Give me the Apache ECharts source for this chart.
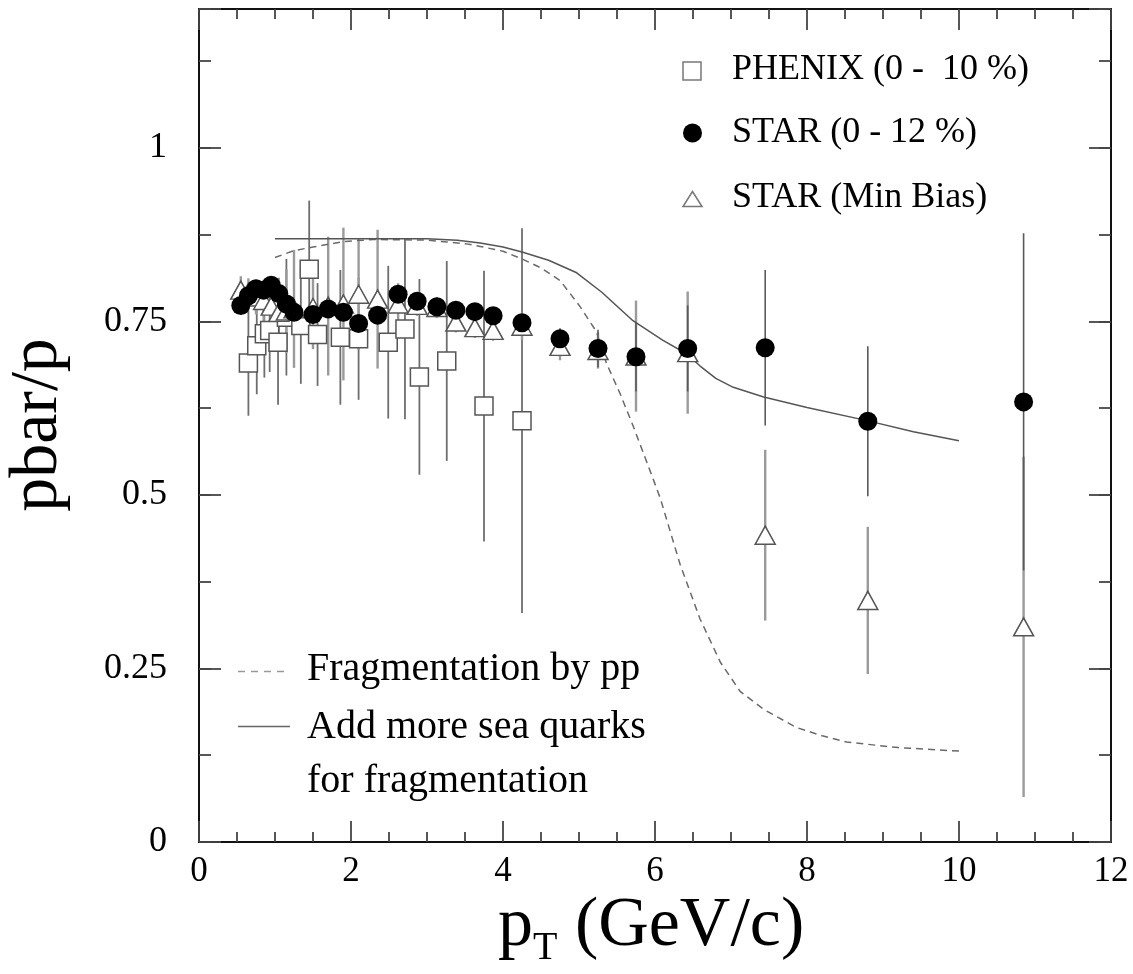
<!DOCTYPE html>
<html>
<head>
<meta charset="utf-8">
<title>pbar/p vs pT</title>
<script src="https://cdn.jsdelivr.net/npm/echarts@6/dist/echarts.min.js"></script>
<style>
  html, body { margin: 0; padding: 0; background: #fff; }
  #chart { width: 1133px; height: 974px; }
</style>
</head>
<body>
<div id="chart"></div>
<script>
// ---- data: antiproton / proton ratio versus transverse momentum ----

// PHENIX (0 - 10 %)
const phenixPt  = [0.65, 0.76, 0.86, 0.93, 1.04, 1.15, 1.34, 1.45, 1.56, 1.86, 2.10, 2.49, 2.71, 2.90, 3.26, 3.75, 4.25];
const phenixVal = [0.690, 0.715, 0.732, 0.737, 0.720, 0.756, 0.744, 0.825, 0.731, 0.727, 0.725, 0.720, 0.739, 0.670, 0.693, 0.628, 0.607];
const phenixErr = [0.076, 0.070, 0.063, 0.060, 0.090, 0.084, 0.084, 0.099, 0.074, 0.097, 0.088, 0.110, 0.130, 0.141, 0.144, 0.195, 0.277];

// STAR bins (shared by both centralities)
const starPt = [0.55, 0.65, 0.75, 0.85, 0.95, 1.05, 1.15, 1.25, 1.50, 1.70, 1.90, 2.10, 2.35, 2.62, 2.87, 3.13, 3.38, 3.63, 3.87, 4.25, 4.75, 5.25, 5.75, 6.43, 7.45, 8.80, 10.85];

// STAR (0 - 12 %)
const starCentralVal = [0.773, 0.787, 0.797, 0.795, 0.802, 0.790, 0.775, 0.763, 0.760, 0.768, 0.763, 0.747, 0.759, 0.789, 0.779, 0.771, 0.766, 0.764, 0.758, 0.748, 0.725, 0.711, 0.699, 0.711, 0.712, 0.606, 0.634];
const starCentralErr = [0.010, 0.010, 0.010, 0.010, 0.010, 0.010, 0.010, 0.010, 0.010, 0.010, 0.010, 0.010, 0.010, 0.010, 0.010, 0.010, 0.010, 0.010, 0.010, 0.012, 0.015, 0.027, 0.050, 0.062, 0.112, 0.108, 0.243];

// STAR (Min Bias)
const starMinBiasVal = [0.795, 0.792, 0.785, 0.780, 0.772, 0.763, 0.765, 0.768, 0.770, 0.772, 0.775, 0.789, 0.782, 0.775, 0.773, 0.770, 0.749, 0.741, 0.737, 0.743, 0.714, 0.708, 0.700, 0.705, 0.442, 0.348, 0.310];
const starMinBiasErr = [0.020, 0.020, 0.025, 0.030, 0.040, 0.050, 0.060, 0.085, 0.060, 0.100, 0.110, 0.080, 0.100, 0.030, 0.015, 0.015, 0.015, 0.015, 0.015, 0.020, 0.020, 0.026, 0.080, 0.088, 0.123, 0.106, 0.245];

// Model: fragmentation by pp
const fragPt  = [1.00, 1.25, 1.50, 1.90, 2.30, 3.00, 3.50, 3.70, 4.00, 4.25, 4.50, 4.75, 5.01, 5.23, 5.36, 5.54, 5.71, 5.90, 6.07, 6.33, 6.59, 6.86, 7.12, 7.43, 7.86, 8.20, 8.52, 9.20, 10.00];
const fragVal = [0.842, 0.852, 0.857, 0.865, 0.868, 0.867, 0.862, 0.858, 0.851, 0.840, 0.827, 0.809, 0.772, 0.735, 0.690, 0.646, 0.600, 0.545, 0.495, 0.400, 0.322, 0.259, 0.217, 0.191, 0.165, 0.153, 0.144, 0.136, 0.131];

// Model: more sea quarks for fragmentation
const seaPt  = [1.00, 1.50, 2.00, 2.50, 3.00, 3.40, 3.70, 4.00, 4.25, 4.60, 4.97, 5.30, 5.71, 6.10, 6.42, 6.59, 6.80, 7.03, 7.43, 8.00, 8.79, 9.40, 10.00];
const seaVal = [0.869, 0.869, 0.869, 0.869, 0.869, 0.867, 0.863, 0.857, 0.850, 0.838, 0.820, 0.792, 0.751, 0.723, 0.703, 0.686, 0.668, 0.655, 0.641, 0.626, 0.607, 0.591, 0.578];

// Axis ticks and their labels
const xTicks = [0, 2, 4, 6, 8, 10, 12];
const xTickLabels = ['0', '2', '4', '6', '8', '10', '12'];
const yTicks = [0, 0.25, 0.5, 0.75, 1];
const yTickLabels = ['0', '0.25', '0.5', '0.75', '1'];

// Legend texts
const legendNames = ['PHENIX (0 -  10 %)', 'STAR (0 - 12 %)', 'STAR (Min Bias)'];
const modelNames = ['Fragmentation by pp', 'Add more sea quarks', 'for fragmentation'];

// ---- chart ----
const FONT = "'Liberation Serif', 'Times New Roman', 'DejaVu Serif', serif";
const TICK = { color: '#444', width: 1.8 };
const FRAME = { color: '#111', width: 2 };

function labelFor(ticks, labels) {
  return function (v) {
    for (let i = 0; i < ticks.length; i++) {
      if (Math.abs(v - ticks[i]) < 1e-9) return labels[i];
    }
    return '';
  };
}

function withErrors(xs, vals, errs) {
  return xs.map((x, i) => [x, vals[i] - errs[i], vals[i] + errs[i]]);
}

function errorBarSeries(data, color, width) {
  return {
    type: 'custom',
    xAxisIndex: 0,
    yAxisIndex: 0,
    z: 2,
    silent: true,
    data: data,
    renderItem: function (params, api) {
      const x = api.value(0);
      const p1 = api.coord([x, api.value(1)]);
      const p2 = api.coord([x, api.value(2)]);
      return {
        type: 'line',
        shape: { x1: p1[0], y1: p1[1], x2: p2[0], y2: p2[1] },
        style: { stroke: color, lineWidth: width }
      };
    }
  };
}

function xAxisDef(pos, showLabel) {
  return {
    type: 'value', position: pos, min: 0, max: 12, interval: 2,
    axisLine: { show: true, onZero: false, lineStyle: FRAME },
    axisTick: { show: true, inside: true, length: 21, lineStyle: TICK },
    minorTick: { show: true, splitNumber: 4, length: 10, lineStyle: TICK },
    splitLine: { show: false },
    minorSplitLine: { show: false },
    axisLabel: {
      show: showLabel, margin: 12, fontFamily: FONT, fontSize: 35, color: '#000',
      showMinLabel: true, showMaxLabel: true,
      formatter: labelFor(xTicks, xTickLabels)
    }
  };
}

function yAxisDef(pos, interval, tickLen, showLine, showLabel) {
  return {
    type: 'value', position: pos, min: 0, max: 1.2, interval: interval,
    axisLine: { show: showLine, onZero: false, lineStyle: FRAME },
    axisTick: { show: true, inside: true, length: tickLen, lineStyle: TICK },
    splitLine: { show: false },
    axisLabel: {
      show: showLabel, margin: 32, fontFamily: FONT, fontSize: 36, color: '#000',
      formatter: labelFor(yTicks, yTickLabels)
    }
  };
}

const chart = echarts.init(document.getElementById('chart'), null, { renderer: 'canvas' });

const option = {
  animation: false,
  backgroundColor: '#fff',
  grid: { left: 199, right: 22, top: 9, bottom: 132, containLabel: false, outerBoundsMode: 'none' },
  xAxis: [xAxisDef('bottom', true), xAxisDef('top', false)],
  yAxis: [
    yAxisDef('left', 0.125, 12, true, false),
    yAxisDef('left', 0.25, 22, false, true),
    yAxisDef('right', 0.125, 12, true, false),
    yAxisDef('right', 0.25, 22, false, false)
  ],
  series: [
    errorBarSeries(withErrors(phenixPt, phenixVal, phenixErr), '#6e6e6e', 1.8),
    errorBarSeries(withErrors(starPt, starMinBiasVal, starMinBiasErr), '#9a9a9a', 2.4),
    errorBarSeries(withErrors(starPt, starCentralVal, starCentralErr), '#5a5a5a', 1.6),
    {
      name: 'Fragmentation by pp', type: 'line', z: 3, silent: true,
      data: fragPt.map((x, i) => [x, fragVal[i]]),
      showSymbol: false, smooth: false,
      lineStyle: { color: '#6a6a6a', width: 1.5, type: [7, 5] }
    },
    {
      name: 'Add more sea quarks for fragmentation', type: 'line', z: 3, silent: true,
      data: seaPt.map((x, i) => [x, seaVal[i]]),
      showSymbol: false, smooth: false,
      lineStyle: { color: '#555', width: 1.5 }
    },
    {
      name: legendNames[0], type: 'scatter', z: 4, silent: true,
      data: phenixPt.map((x, i) => [x, phenixVal[i]]),
      symbol: 'rect', symbolSize: 18,
      itemStyle: { color: '#fff', borderColor: '#555', borderWidth: 1.5, opacity: 1 }
    },
    {
      name: legendNames[2], type: 'scatter', z: 5, silent: true,
      data: starPt.map((x, i) => [x, starMinBiasVal[i]]),
      symbol: 'triangle', symbolSize: [20, 18],
      itemStyle: { color: '#fff', borderColor: '#555', borderWidth: 1.5, opacity: 1 }
    },
    {
      name: legendNames[1], type: 'scatter', z: 6, silent: true,
      data: starPt.map((x, i) => [x, starCentralVal[i]]),
      symbol: 'circle', symbolSize: 19,
      itemStyle: { color: '#000', opacity: 1 }
    }
  ],
  graphic: [
    // y-axis title
    {
      type: 'text', x: 38, y: 425, rotation: Math.PI / 2, silent: true,
      style: { text: 'pbar/p', fontFamily: FONT, fontSize: 68, fill: '#000', align: 'center', verticalAlign: 'middle' }
    },
    // x-axis title with subscript
    {
      type: 'text', silent: true,
      style: {
        x: 498, y: 886, align: 'left', verticalAlign: 'top',
        text: '{m|p}{s|T}{m| (GeV/c)}',
        rich: {
          m: { fontFamily: FONT, fontSize: 70, lineHeight: 82, fill: '#000' },
          s: { fontFamily: FONT, fontSize: 40, lineHeight: 36, verticalAlign: 'bottom', fill: '#000' }
        }
      }
    },
    // data legend
    { type: 'rect', silent: true, shape: { x: 683, y: 62, width: 18, height: 18 },
      style: { fill: '#fff', stroke: '#777', lineWidth: 1.5 } },
    { type: 'circle', silent: true, shape: { cx: 692.5, cy: 133, r: 9.5 }, style: { fill: '#000' } },
    { type: 'polygon', silent: true, shape: { points: [[692.5, 191.5], [683, 206.5], [702, 206.5]] },
      style: { fill: '#fff', stroke: '#777', lineWidth: 1.5 } },
    { type: 'text', silent: true, style: { x: 732, y: 70, text: legendNames[0], fontFamily: FONT, fontSize: 36, fill: '#000', verticalAlign: 'middle' } },
    { type: 'text', silent: true, style: { x: 732, y: 133, text: legendNames[1], fontFamily: FONT, fontSize: 36, fill: '#000', verticalAlign: 'middle' } },
    { type: 'text', silent: true, style: { x: 732, y: 198, text: legendNames[2], fontFamily: FONT, fontSize: 36, fill: '#000', verticalAlign: 'middle' } },
    // model legend
    { type: 'line', silent: true, shape: { x1: 238, y1: 671.5, x2: 290, y2: 671.5 },
      style: { stroke: '#999', lineWidth: 1.5, lineDash: [7, 6] } },
    { type: 'line', silent: true, shape: { x1: 238, y1: 726.5, x2: 290, y2: 726.5 },
      style: { stroke: '#666', lineWidth: 1.5 } },
    { type: 'text', silent: true, style: { x: 307, y: 669, text: modelNames[0], fontFamily: FONT, fontSize: 40, fill: '#000', verticalAlign: 'middle' } },
    { type: 'text', silent: true, style: { x: 307, y: 727, text: modelNames[1], fontFamily: FONT, fontSize: 40, fill: '#000', verticalAlign: 'middle' } },
    { type: 'text', silent: true, style: { x: 307, y: 781, text: modelNames[2], fontFamily: FONT, fontSize: 40, fill: '#000', verticalAlign: 'middle' } }
  ]
};

chart.setOption(option);
</script>
</body>
</html>
